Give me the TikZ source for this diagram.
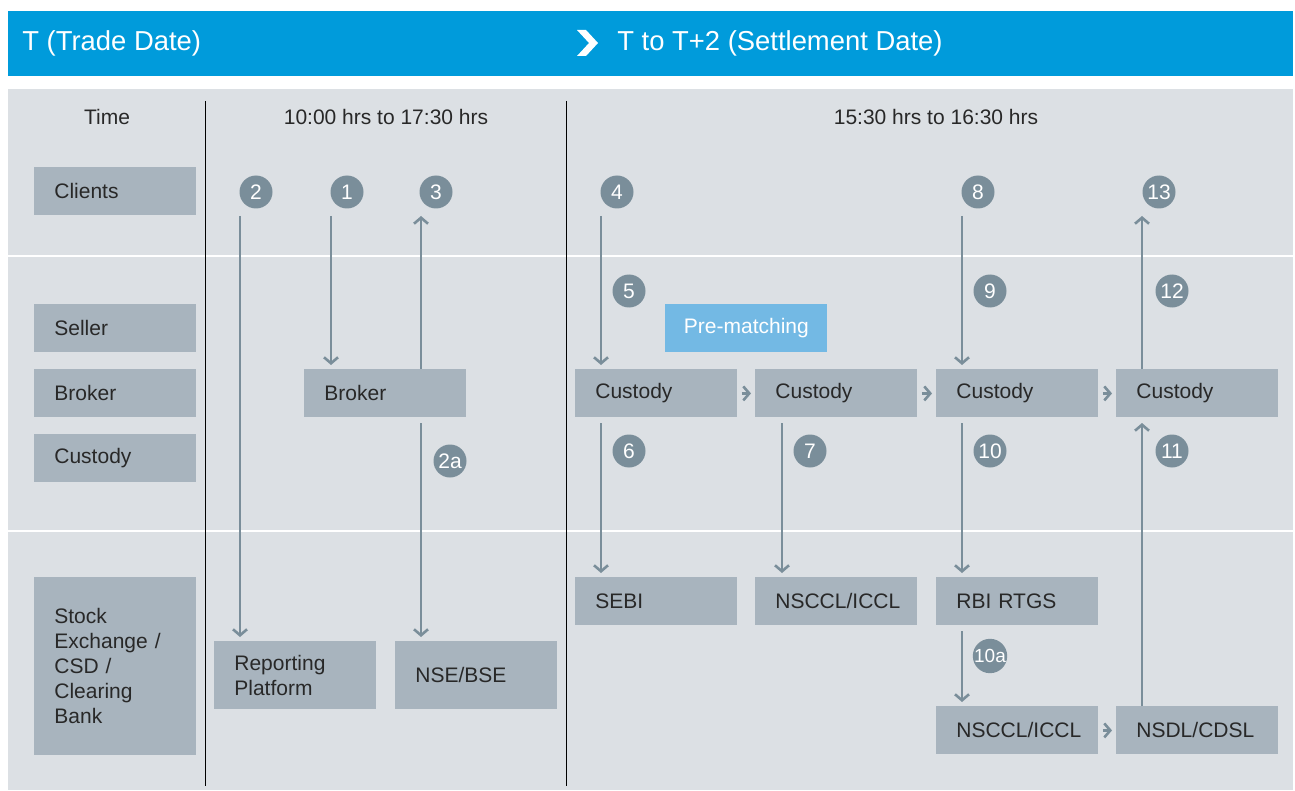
\documentclass[tikz,border=0pt]{standalone}
\usepackage{fontspec}
\setmainfont{Liberation Sans}
\usepackage{xcolor}
\usetikzlibrary{arrows.meta,positioning}
\definecolor{headblue}{RGB}{0, 155, 219}
\definecolor{panelgray}{RGB}{220, 224, 228}
\definecolor{boxgray}{RGB}{168, 180, 190}
\definecolor{stepgray}{RGB}{122, 142, 154}
\definecolor{matchblue}{RGB}{115, 185, 228}
\definecolor{textdark}{RGB}{40, 40, 40}

\tikzset{
  lanebox/.style={fill=boxgray, text=textdark, font=\fontsize{10.5}{12.5}\selectfont,
    inner xsep=10pt, inner ysep=0pt, text width=61pt, minimum height=24pt, align=left, anchor=north west},
  stepnum/.style={circle, fill=stepgray, text=white, minimum size=16.5pt, inner sep=0pt,
    font=\fontsize{10.5}{10.5}\selectfont},
  flow/.style={draw=stepgray, line width=1.3pt, shorten >=2pt, -{Straight Barb[length=3pt,width=7pt]}},
  headtext/.style={text=white, font=\fontsize{13.7}{13.7}\selectfont, inner sep=0pt, anchor=west},
  timetext/.style={text=textdark, font=\fontsize{10.5}{12.5}\selectfont, inner sep=0pt}
}

\begin{document}
\begin{tikzpicture}[x=0.5pt, y=-0.5pt]
            \useasboundingbox[fill=white] (0,0) rectangle (1295,791);

            % Header bar
            \fill[headblue] (8,11) rectangle (1293,76);
            \node[headtext] (tday) at (22,43) {T (Trade Date)};
            \fill[white] (577,30) -- (586,30) -- (598,43) -- (586,56) -- (577,56) -- (589,43) -- cycle;
            \node[headtext] (sday) at (617,43) {T to T+2 (Settlement Date)};

            % Panel and lanes
            \fill[panelgray] (8,89) rectangle (1293,790);
            \draw[white, line width=0.8pt] (8,256) -- (1293,256);
            \draw[white, line width=0.8pt] (8,531) -- (1293,531);
            \draw[black, line width=0.5pt] (205,101) -- (205,786);
            \draw[black, line width=0.5pt] (566,101) -- (566,786);

            % Time row
            \node[timetext] (ttime) at (107,117) {Time};
            \node[timetext] (tspan1) at (386,117) {10:00 hrs to 17:30 hrs};
            \node[timetext] (tspan2) at (936,117) {15:30 hrs to 16:30 hrs};

            % Lane labels
            \node[lanebox] (lclients) at (34,167) {Clients};
            \node[lanebox] (lseller) at (34,304) {Seller};
            \node[lanebox] (lbroker) at (34,369) {Broker};
            \node[lanebox] (lcustody) at (34,434) {Custody};
            \node[lanebox, minimum height=89pt] (lstock) at (34,577) {Stock\\Exchange /\\CSD /\\Clearing\\Bank};

            % Trade date boxes
            \node[lanebox] (broker) at (304,369) {Broker};
            \node[lanebox, minimum height=34pt] (report) at (214,641) {Reporting\\Platform};
            \node[lanebox, minimum height=34pt] (nse) at (395,641) {NSE/BSE};

            % Settlement boxes
            \node[lanebox, fill=matchblue, text=white, align=center, inner xsep=0pt, text width=81pt] (prematch) at (665,304) {Pre-matching};
            \node[lanebox] (cus1) at (575,369) {Custody};
            \node[lanebox] (cus2) at (755,369) {Custody};
            \node[lanebox] (cus3) at (936,369) {Custody};
            \node[lanebox] (cus4) at (1116,369) {Custody};
            \node[lanebox] (sebi) at (575,577) {SEBI};
            \node[lanebox] (nsccl1) at (755,577) {NSCCL/ICCL};
            \node[lanebox] (rbi) at (936,577) {RBI RTGS};
            \node[lanebox] (nsccl2) at (936,706) {NSCCL/ICCL};
            \node[lanebox] (nsdl) at (1116,706) {NSDL/CDSL};

            % Step numbers
            \node[stepnum] (n2) at (256,192) {2};
            \node[stepnum] (n1) at (347,192) {1};
            \node[stepnum] (n3) at (436,192) {3};
            \node[stepnum] (n2a) at (450,461) {2a};
            \node[stepnum] (n4) at (617,192) {4};
            \node[stepnum] (n5) at (629,291) {5};
            \node[stepnum] (n6) at (629,451) {6};
            \node[stepnum] (n7) at (810,451) {7};
            \node[stepnum] (n8) at (978,192) {8};
            \node[stepnum] (n9) at (990,291) {9};
            \node[stepnum] (n10) at (990,451) {10};
            \node[stepnum, font=\fontsize{9.5}{9.5}\selectfont] (n10a) at (990,656) {10a};
            \node[stepnum] (n11) at (1172,451) {11};
            \node[stepnum] (n12) at (1172,291) {12};
            \node[stepnum] (n13) at (1159,192) {13};

            % Free arrow ends
            \coordinate (s2) at (240,216);
            \coordinate (s1) at (331,216);
            \coordinate (e3) at (421,212);
            \coordinate (s2a) at (421,423);
            \coordinate (s4) at (601,216);
            \coordinate (s6) at (601,423);
            \coordinate (s7) at (782,423);
            \coordinate (s8) at (962,216);
            \coordinate (s10) at (962,423);
            \coordinate (s10a) at (962,631);
            \coordinate (e11) at (1142,419);
            \coordinate (e13) at (1142,212);

            % Trade date flows
            \draw[flow] (s2) -- (report.north -| s2);
            \draw[flow] (s1) -- (broker.north -| s1);
            \draw[flow] (broker.north -| e3) -- (e3);
            \draw[flow] (s2a) -- (nse.north -| s2a);

            % Settlement flows
            \draw[flow] (s4) -- (cus1.north -| s4);
            \draw[flow] (s6) -- (sebi.north -| s6);
            \draw[flow] (s7) -- (nsccl1.north -| s7);
            \draw[flow] (s8) -- (cus3.north -| s8);
            \draw[flow] (s10) -- (rbi.north -| s10);
            \draw[flow] (s10a) -- (nsccl2.north -| s10a);
            \draw[flow] (nsdl.north -| e11) -- (e11);
            \draw[flow] (cus4.north -| e13) -- (e13);

            % Box to box
            \draw[flow, shorten <=2pt] (cus1) -- (cus2);
            \draw[flow, shorten <=2pt] (cus2) -- (cus3);
            \draw[flow, shorten <=2pt] (cus3) -- (cus4);
            \draw[flow, shorten <=2pt] (nsccl2) -- (nsdl);
        \end{tikzpicture}
\end{document}
